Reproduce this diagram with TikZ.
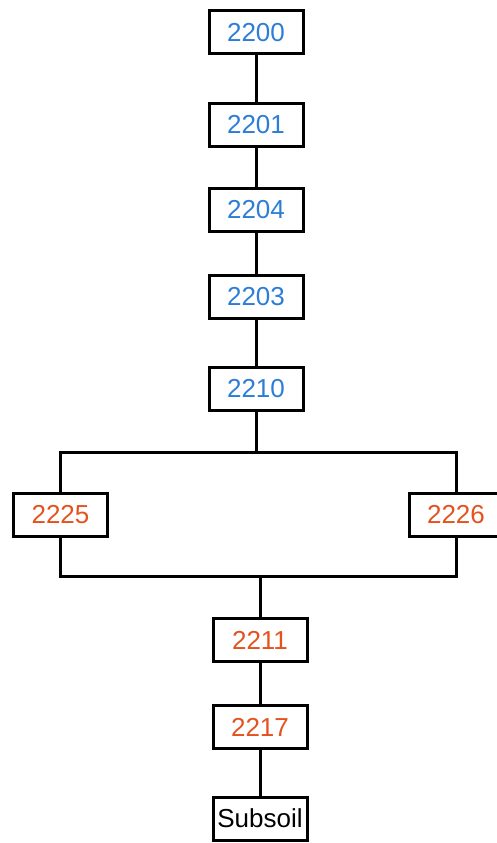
\documentclass[tikz,border=0pt]{standalone}
\usepackage{fontspec}
\setmainfont{Liberation Sans}
\usetikzlibrary{positioning}
\definecolor{ctxblue}{RGB}{45,125,215}
\definecolor{ctxorange}{RGB}{228,82,30}

\begin{document}
\begin{tikzpicture}[x=1pt, y=-1pt]

\tikzstyle{ctx}=[draw, text centered, line width=3pt, minimum width=94pt, minimum height=43pt, inner sep=0pt, font=\fontsize{26}{30}\selectfont]
\tikzstyle{cr}=[line width=3pt]

\useasboundingbox (0,0) rectangle (496,843);

% upper sequence
\node(n2200)[ctx, text=ctxblue] at (256,32.5) {2200};
\node(n2201)[ctx, text=ctxblue] at (256,125) {2201};
\node(n2204)[ctx, text=ctxblue] at (256,210) {2204};
\node(n2203)[ctx, text=ctxblue] at (256,296.5) {2203};
\node(n2210)[ctx, text=ctxblue] at (256,388.5) {2210};

% split
\node(n2225)[ctx, text=ctxorange] at (60.5,515) {2225};
\node(n2226)[ctx, text=ctxorange] at (456,515) {2226};
\coordinate(topM) at (256,452);
\coordinate(topL) at (60.5,452);
\coordinate(topR) at (456,452);
\coordinate(botL) at (60.5,576);
\coordinate(botR) at (456,576);
\coordinate(botM) at (260,576);

% lower sequence
\node(n2211)[ctx, text=ctxorange] at (260,640) {2211};
\node(n2217)[ctx, text=ctxorange] at (260,727) {2217};
\node(soil)[ctx] at (260,818.5) {Subsoil};

\draw[cr] (n2200) -- (n2201) -- (n2204) -- (n2203) -- (n2210);
\draw[cr] (n2210) -- (topM);
\draw[cr] (n2225.north) -- (topL) -- (topR) -- (n2226.north);
\draw[cr] (n2225.south) -- (botL) -- (botR) -- (n2226.south);
\draw[cr] (botM) -- (n2211) -- (n2217) -- (soil);

\end{tikzpicture}
\end{document}
